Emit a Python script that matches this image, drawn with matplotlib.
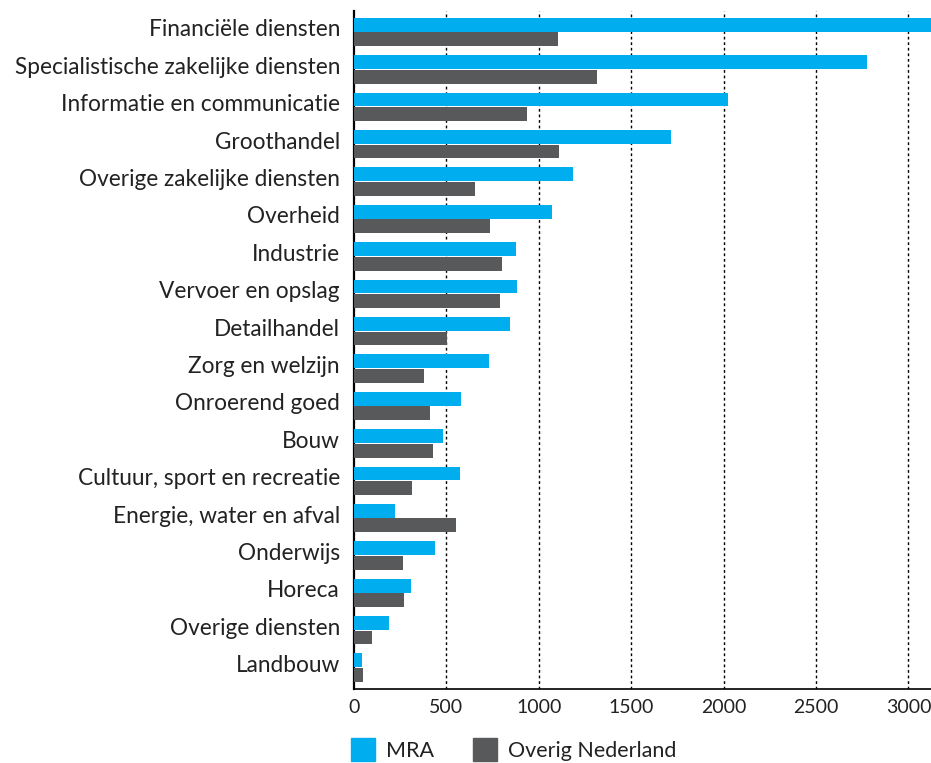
import matplotlib.pyplot as plt
import matplotlib.transforms as mtransforms
import numpy as np
from matplotlib.patches import Patch

plt.rcParams['font.family'] = ['Lato', 'DejaVu Sans']

sectors = ['Financiële diensten', 'Specialistische zakelijke diensten',
           'Informatie en communicatie', 'Groothandel',
           'Overige zakelijke diensten', 'Overheid', 'Industrie',
           'Vervoer en opslag', 'Detailhandel', 'Zorg en welzijn',
           'Onroerend goed', 'Bouw', 'Cultuur, sport en recreatie',
           'Energie, water en afval', 'Onderwijs', 'Horeca',
           'Overige diensten', 'Landbouw']
mra = [3200, 2774, 2023, 1714, 1187, 1073, 878, 885, 846, 731,
       580, 482, 574, 223, 439, 308, 190, 43]
overig = [1105, 1318, 938, 1111, 656, 738, 803, 793, 505, 380,
          413, 429, 315, 554, 266, 272, 98, 49]
xticks = [0, 500, 1000, 1500, 2000, 2500, 3000]

c_mra = '#00AEEF'
c_ov = '#58595B'
c_txt = '#222222'

fig = plt.figure(figsize=(9.31, 7.63), dpi=100)
ax = fig.add_axes([0.380, 0.097, 0.620, 0.889])

y = np.arange(len(sectors))
h = 0.37
ax.barh(y - h / 2 - 0.01, mra, height=h, color=c_mra, zorder=3)
ax.barh(y + h / 2 + 0.01, overig, height=h, color=c_ov, zorder=3)

ax.set_ylim(len(sectors) - 0.43, -0.57)
ax.set_xlim(0, 3122)
ax.set_yticks(y)
ax.set_yticklabels(sectors, fontsize=16.3, color=c_txt)
ax.set_xticks(xticks)
ax.set_xticklabels([str(t) for t in xticks], fontsize=14, color=c_txt)
ax.tick_params(axis='both', length=0)
ax.tick_params(axis='y', pad=10)
ax.tick_params(axis='x', pad=7)

# labels sit a little above the centre of each bar pair
shift = mtransforms.ScaledTranslation(0, 4 / 100, fig.dpi_scale_trans)
for lab in ax.get_yticklabels():
    lab.set_transform(lab.get_transform() + shift)

for t in xticks[1:]:
    ax.axvline(t, color='black', linestyle=(0, (2, 2)), linewidth=1, zorder=1)

for s in ['top', 'right']:
    ax.spines[s].set_visible(False)
ax.spines['left'].set_linewidth(1.6)
ax.spines['bottom'].set_linewidth(1.2)

handles = [Patch(color=c_mra, label='MRA'), Patch(color=c_ov, label='Overig Nederland')]
fig.legend(handles=handles, loc='upper left', bbox_to_anchor=(351 / 931, 25 / 763),
           ncol=2, frameon=False, fontsize=15.5, handlelength=1.12, handleheight=1.3,
           handletextpad=0.5, columnspacing=1.8, borderaxespad=0, borderpad=0,
           labelcolor=c_txt)

plt.savefig('out.png', dpi=100)
